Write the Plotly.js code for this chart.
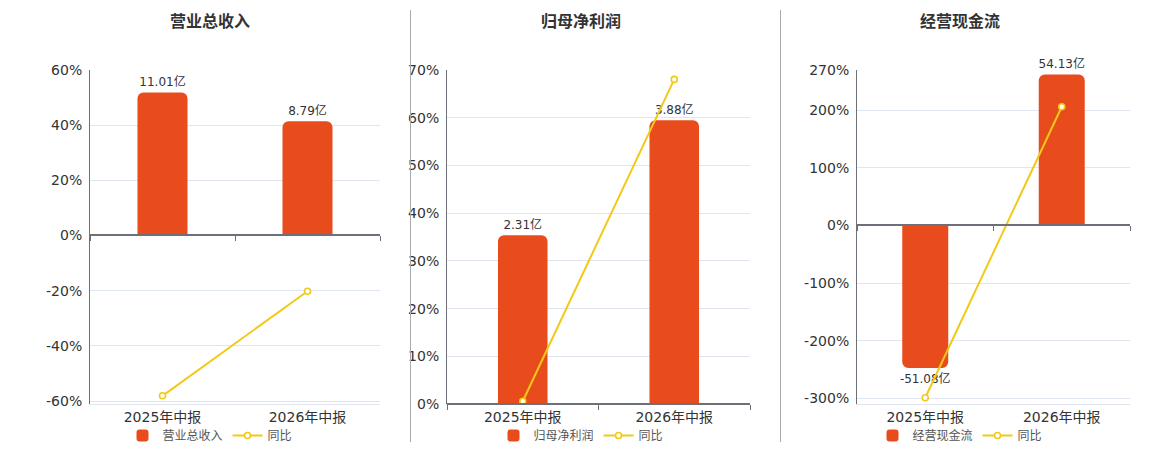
<!DOCTYPE html>
<html>
<head>
<meta charset="utf-8">
<script src="https://cdn.plot.ly/plotly-3.0.1.min.js"></script>
<style>
  html, body { margin: 0; padding: 0; background: #fff; }
  #chart { width: 1160px; height: 450px; }
</style>
</head>
<body>
<div id="chart"></div>
<script>
// 中报 三项指标：柱为金额(亿)，折线为同比(%)
const categories = ['2025年中报', '2026年中报'];

const panelTitles = ['营业总收入', '归母净利润', '经营现金流'];

const revenue = [11.01, 8.79];
const revenueYoy = [-58.1, -20.2];
const revenueTicks = [60, 40, 20, 0, -20, -40, -60];

const netProfit = [2.31, 3.88];
const netProfitYoy = [0.6, 68.0];
const netProfitTicks = [70, 60, 50, 40, 30, 20, 10, 0];

const cashFlow = [-51.08, 54.13];
const cashFlowYoy = [-299, 206];
const cashFlowTicks = [270, 200, 100, 0, -100, -200, -300];

const yoyName = '同比';

// ------------------------------------------------------------
const W = 1160, H = 450;
const FONT = 'DejaVu Sans, "Noto Sans CJK SC", sans-serif';
const BAR_COLOR = '#E84C1D';
const LINE_COLOR = '#F2C916';
const AXIS_COLOR = '#6E7079';
const GRID_COLOR = '#E0E6F1';

const yDomain = [1 - 405 / H, 1 - 70 / H];

const panels = [
  { bars: revenue, yoy: revenueYoy, ticks: revenueTicks, px: [90, 380], pct: [-61.1, 60], barRange: [-12.98, 12.75], width: 0.345, cx: 210 },
  { bars: netProfit, yoy: netProfitYoy, ticks: netProfitTicks, px: [447, 750], pct: [0, 70], barRange: [0, 4.57], width: 0.327, cx: 581 },
  { bars: cashFlow, yoy: cashFlowYoy, ticks: cashFlowTicks, px: [857, 1130], pct: [-310, 270], barRange: [-64.05, 55.78], width: 0.337, cx: 960 }
];

const traces = [];
const layout = {
  width: W, height: H,
  margin: { t: 0, r: 0, b: 0, l: 0 },
  paper_bgcolor: '#fff', plot_bgcolor: 'rgba(0,0,0,0)',
  font: { family: FONT, size: 14, color: '#333' },
  showlegend: true,
  annotations: [],
  shapes: []
};

panels.forEach((p, i) => {
  const a = 2 * i + 1, b = 2 * i + 2;           // main axis ids, overlay axis ids
  const xa = 'x' + a, ya = 'y' + a, xb = 'x' + b, yb = 'y' + b;
  const xKey = (n) => n === 1 ? 'xaxis' : 'xaxis' + n;
  const yKey = (n) => n === 1 ? 'yaxis' : 'yaxis' + n;
  const legendId = i === 0 ? 'legend' : 'legend' + (i + 1);
  const dom = [p.px[0] / W, p.px[1] / W];
  const zeroPos = yDomain[0] + (yDomain[1] - yDomain[0]) * (0 - p.pct[0]) / (p.pct[1] - p.pct[0]);

  traces.push({
    type: 'bar', x: categories, y: p.bars, xaxis: xa, yaxis: ya,
    name: panelTitles[i], legend: legendId,
    width: p.width,
    marker: { color: BAR_COLOR, cornerradius: 6 },
    text: p.bars.map(v => v.toFixed(2) + '亿'),
    textposition: 'outside', constraintext: 'none', cliponaxis: false,
    outsidetextfont: { family: FONT, size: 12, color: '#333' },
    hoverinfo: 'skip'
  });

  traces.push({
    type: 'scatter', mode: 'lines+markers', x: categories, y: p.yoy, xaxis: xb, yaxis: yb,
    name: yoyName, legend: legendId,
    line: { color: LINE_COLOR, width: 2 },
    marker: { symbol: 'circle', size: 6, color: '#fff', line: { color: LINE_COLOR, width: 1.6 } },
    cliponaxis: false, hoverinfo: 'skip'
  });

  // bottom category axis carrying the labels
  layout[xKey(a)] = {
    domain: dom, anchor: ya, type: 'category', range: [-0.5, 1.5],
    showgrid: false, zeroline: false, showline: true, linecolor: GRID_COLOR, linewidth: 1,
    ticks: '', tickfont: { family: FONT, size: 14, color: '#333' }, fixedrange: true
  };
  // hidden amount axis for bars
  layout[yKey(a)] = {
    domain: yDomain, anchor: xa, range: p.barRange, visible: false, fixedrange: true
  };
  // axis line at zero with boundary ticks
  layout[xKey(b)] = {
    overlaying: xa, anchor: 'free', position: zeroPos, type: 'category', range: [-0.5, 1.5],
    showgrid: false, zeroline: false, showline: true, linecolor: AXIS_COLOR, linewidth: 2,
    ticks: 'outside', tickson: 'boundaries', ticklen: 5, tickcolor: AXIS_COLOR, tickwidth: 1,
    showticklabels: false, fixedrange: true
  };
  // visible percent axis (hyphen minus as in the source)
  layout[yKey(b)] = {
    overlaying: ya, anchor: xa, side: 'left', range: p.pct,
    tickmode: 'array', tickvals: p.ticks, ticktext: p.ticks.map(v => String(v) + '%'),
    showgrid: true, gridcolor: GRID_COLOR, gridwidth: 1,
    zeroline: false, showline: true, linecolor: AXIS_COLOR, linewidth: 1,
    ticks: '', ticklabelstandoff: 4, tickfont: { family: FONT, size: 14, color: '#333' }, fixedrange: true
  };

  layout[legendId] = {
    orientation: 'h', x: p.cx / W, xanchor: 'center', y: 1 - 436 / H, yanchor: 'middle',
    font: { family: FONT, size: 12, color: '#555' }, bgcolor: 'rgba(0,0,0,0)',
    itemwidth: 30, tracegroupgap: 0
  };

  layout.annotations.push({
    text: '<b>' + panelTitles[i] + '</b>', xref: 'paper', yref: 'paper',
    x: p.cx / W, y: 1 - 22 / H, xanchor: 'center', yanchor: 'middle', showarrow: false,
    font: { family: FONT, size: 16, color: '#333' }
  });
});

// panel separators
[410.5, 780.5].forEach(px => {
  layout.shapes.push({
    type: 'line', xref: 'paper', yref: 'paper', x0: px / W, x1: px / W, y0: 1 - 443 / H, y1: 1 - 10 / H,
    line: { color: '#aaa', width: 1 }
  });
});

Plotly.newPlot('chart', traces, layout, { displayModeBar: false, staticPlot: true });
</script>
</body>
</html>
